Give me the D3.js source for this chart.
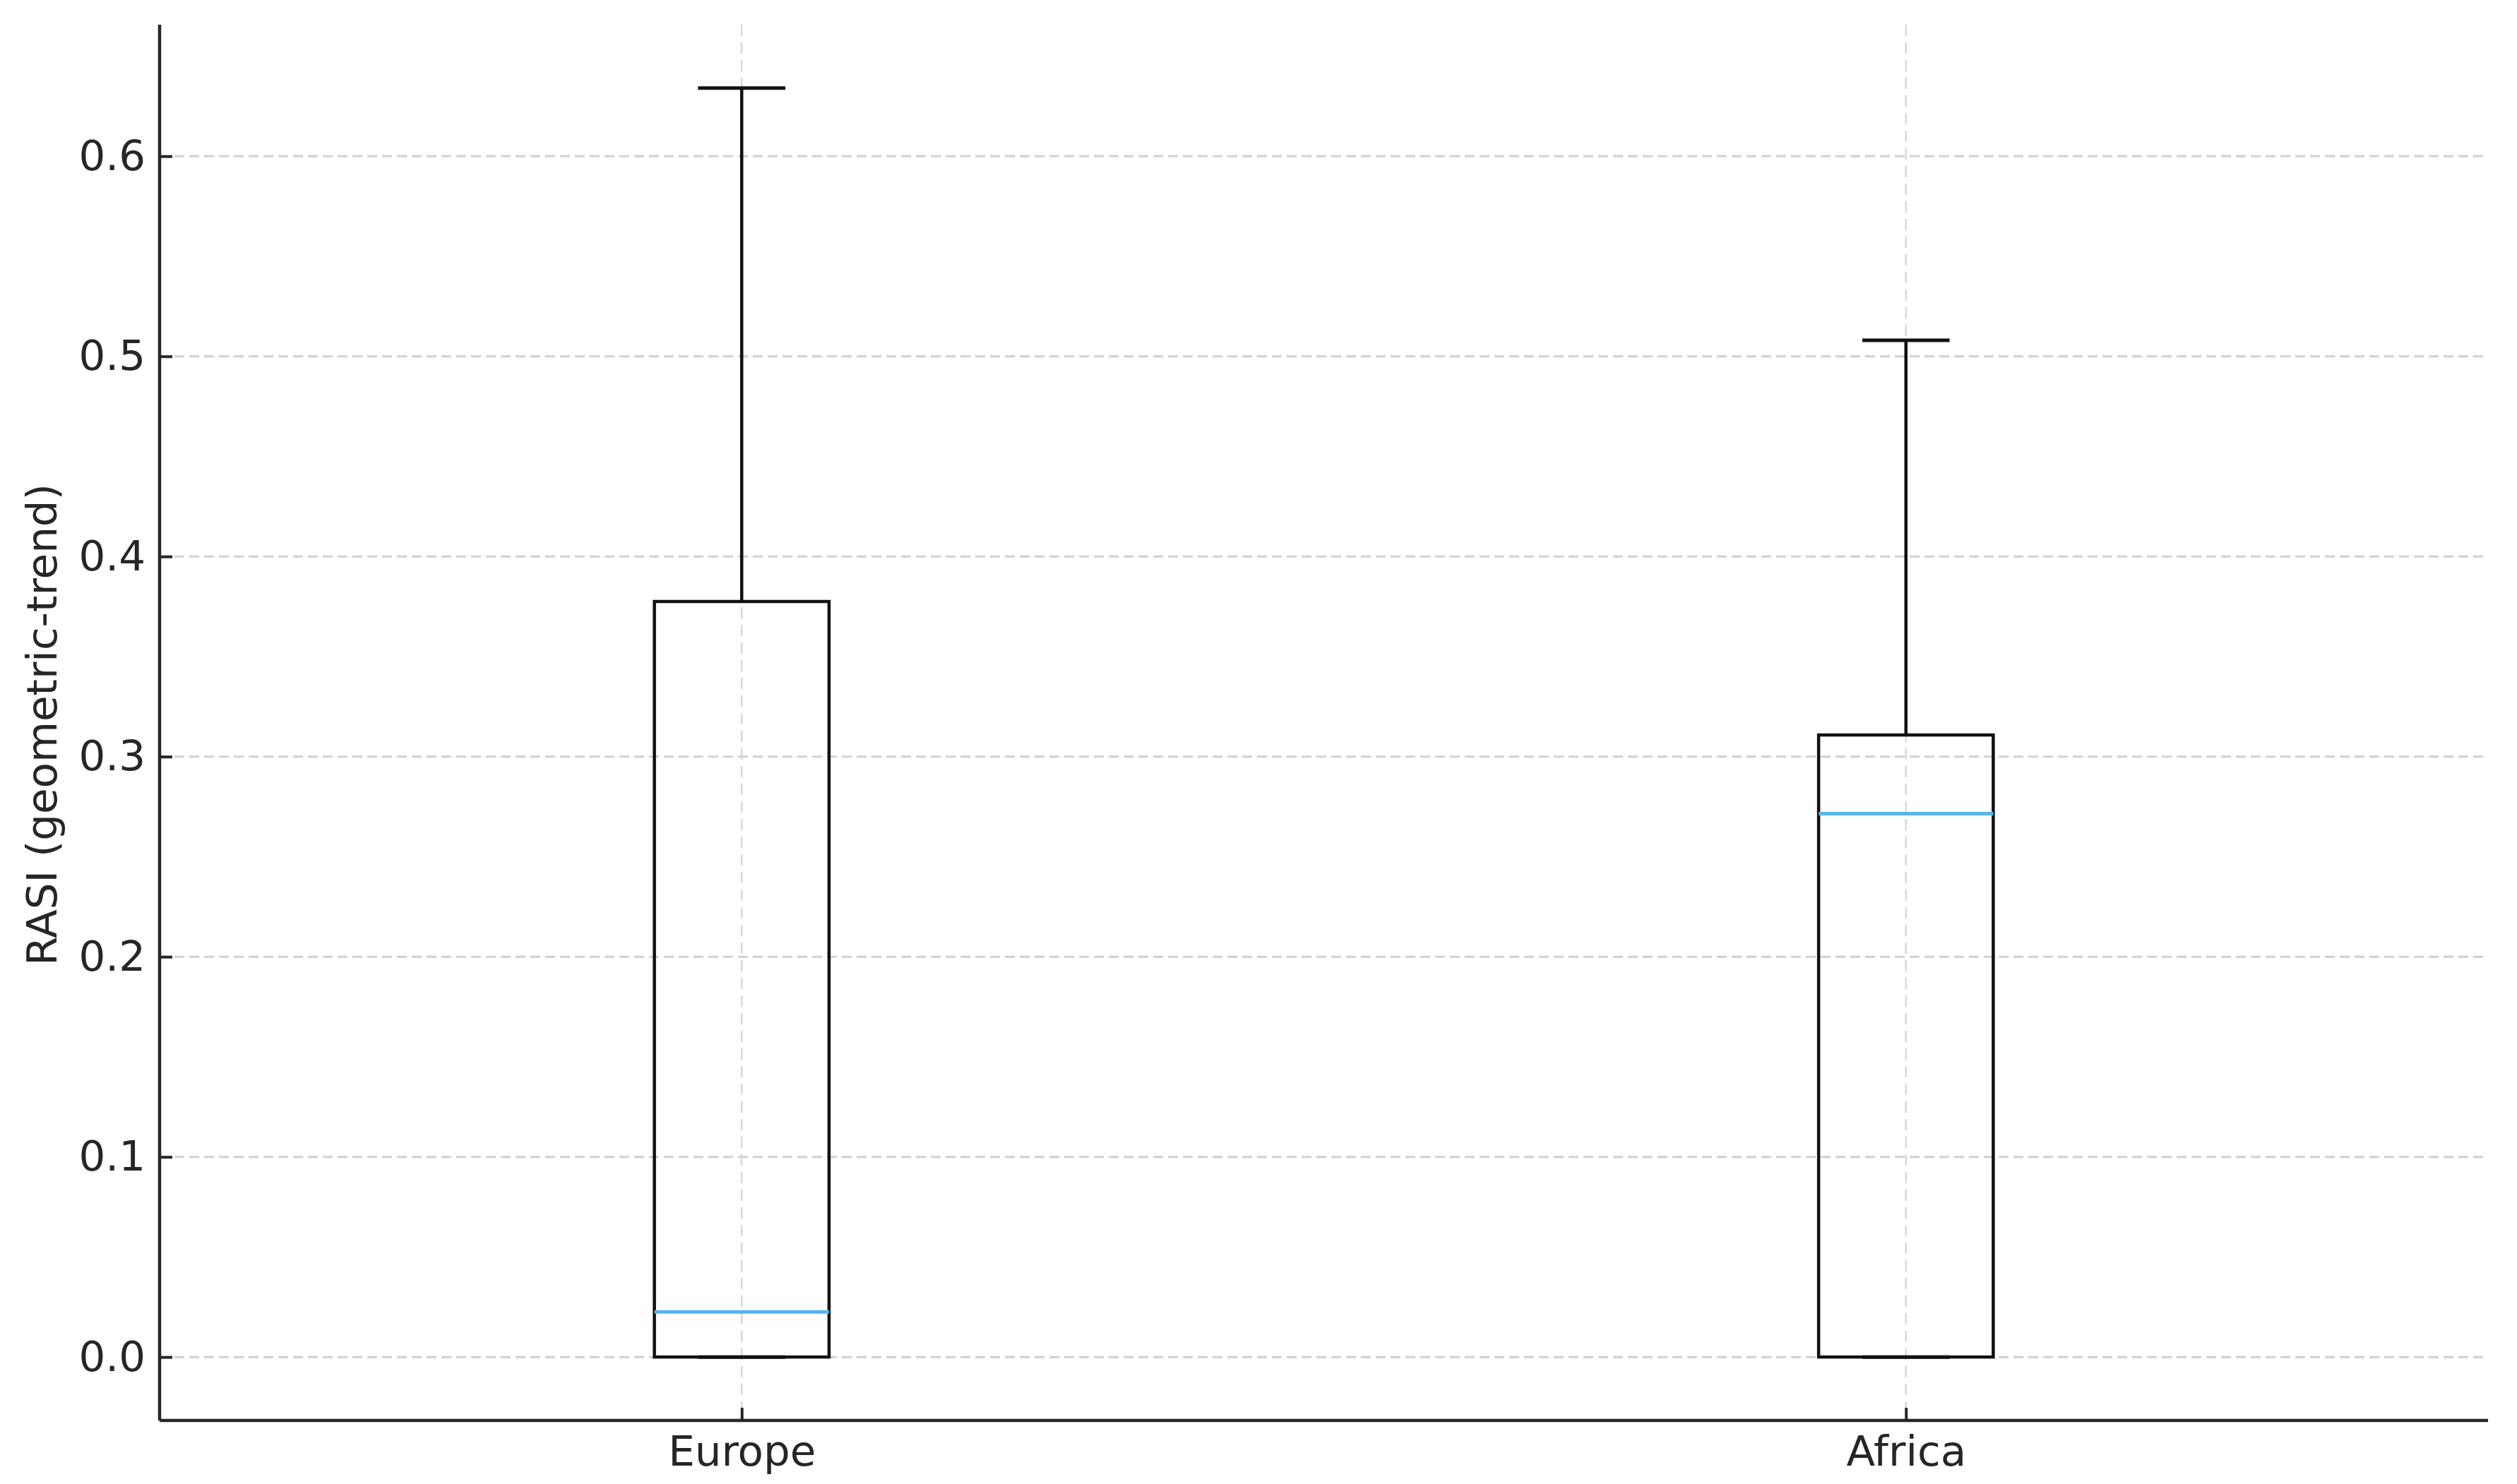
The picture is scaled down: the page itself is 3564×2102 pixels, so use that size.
<!DOCTYPE html>
<html>
<head>
<meta charset="utf-8">
<script src="https://cdn.jsdelivr.net/npm/d3@7"></script>
<style>
  body { margin: 0; background: #fff; }
  text { font-family: "DejaVu Sans", sans-serif; }
</style>
</head>
<body>
<script>
// Chart data
const regions = ["Europe", "Africa"];
const lowerWhisker = [0.0, 0.0];
const q1 = [0.0, 0.0];
const medians = [0.0225, 0.2715];
const q3 = [0.3775, 0.3108];
const upperWhisker = [0.634, 0.508];
const yTicks = [0.0, 0.1, 0.2, 0.3, 0.4, 0.5, 0.6];

let svgWidth = 3564
let svgHeight = 2102

var margin = {
    top: 35,
    right: 41,
    bottom: 90,
    left: 226
};

let width = svgWidth - margin.left - margin.right;
let height = svgHeight - margin.top - margin.bottom;

let fontSize = 59.5;

let svg = d3.select("body")
    .append("svg")
    .attr("width", svgWidth)
    .attr("height", svgHeight)

let chartGroup = svg.append("g")
    .attr("transform", `translate(${margin.left}, ${margin.top})`)

let boxData = regions.map((r, i) => ({
    region: r,
    pos: i + 1,
    lo: lowerWhisker[i],
    q1: q1[i],
    med: medians[i],
    q3: q3[i],
    hi: upperWhisker[i]
}));

// Scales (matplotlib style 5% margins on y, positions 1..n on x)
let yMax = d3.max(upperWhisker), yMin = d3.min(lowerWhisker);
let pad = (yMax - yMin) * 0.05;

let xScale = d3.scaleLinear()
    .domain([0.5, regions.length + 0.5])
    .range([0, width]);

let yScale = d3.scaleLinear()
    .domain([yMin - pad, yMax + pad])
    .range([height, 0]);

const boxW = 0.15, capW = 0.075;

// Grid lines
chartGroup.append("g")
    .selectAll("line")
    .data(yTicks)
    .enter().append("line")
    .attr("x1", 0)
    .attr("x2", width)
    .attr("y1", d => yScale(d))
    .attr("y2", d => yScale(d))
    .attr("stroke", "#d0d0d0")
    .attr("stroke-width", 3)
    .attr("stroke-dasharray", "14,7");

chartGroup.append("g")
    .selectAll("line")
    .data(boxData)
    .enter().append("line")
    .attr("x1", d => xScale(d.pos))
    .attr("x2", d => xScale(d.pos))
    .attr("y1", 0)
    .attr("y2", height)
    .attr("stroke", "#d8d8d8")
    .attr("stroke-width", 2.5)
    .attr("stroke-dasharray", "16,9");

// Axes
let leftAxis = d3.axisLeft(yScale)
    .tickValues(yTicks)
    .tickFormat(d3.format(".1f"))
    .tickSizeInner(-18)
    .tickSizeOuter(0)
    .tickPadding(20);

let bottomAxis = d3.axisBottom(xScale)
    .tickValues(boxData.map(d => d.pos))
    .tickFormat((d, i) => regions[i])
    .tickSizeInner(-18)
    .tickSizeOuter(0)
    .tickPadding(22);

let yAxisG = chartGroup.append("g")
    .call(leftAxis);

let xAxisG = chartGroup.append("g")
    .attr("transform", `translate(0, ${height})`)
    .call(bottomAxis);

[yAxisG, xAxisG].forEach(g => {
    g.select(".domain").attr("stroke", "#262626").attr("stroke-width", 4.5);
    g.selectAll(".tick line").attr("stroke", "#262626").attr("stroke-width", 4);
    g.selectAll(".tick text")
        .attr("font-size", fontSize)
        .attr("fill", "#262626")
        .attr("font-family", "DejaVu Sans");
});
// spine should span full plot area
yAxisG.select(".domain").attr("d", `M0,0V${height}`);
xAxisG.select(".domain").attr("d", `M0,0H${width}`);

// Boxes
let node = chartGroup.selectAll(".box")
    .data(boxData)
    .enter().append("g")
    .classed("box", true);

// whiskers
node.append("line")
    .attr("x1", d => xScale(d.pos))
    .attr("x2", d => xScale(d.pos))
    .attr("y1", d => yScale(d.q3))
    .attr("y2", d => yScale(d.hi))
    .attr("stroke", "#111")
    .attr("stroke-width", 4.5);

node.append("line")
    .attr("x1", d => xScale(d.pos))
    .attr("x2", d => xScale(d.pos))
    .attr("y1", d => yScale(d.q1))
    .attr("y2", d => yScale(d.lo))
    .attr("stroke", "#111")
    .attr("stroke-width", 4.5);

// caps
node.append("line")
    .attr("x1", d => xScale(d.pos - capW / 2))
    .attr("x2", d => xScale(d.pos + capW / 2))
    .attr("y1", d => yScale(d.hi))
    .attr("y2", d => yScale(d.hi))
    .attr("stroke", "#111")
    .attr("stroke-width", 5);

node.append("line")
    .attr("x1", d => xScale(d.pos - capW / 2))
    .attr("x2", d => xScale(d.pos + capW / 2))
    .attr("y1", d => yScale(d.lo))
    .attr("y2", d => yScale(d.lo))
    .attr("stroke", "#111")
    .attr("stroke-width", 5);

// box
node.append("rect")
    .attr("x", d => xScale(d.pos - boxW / 2))
    .attr("width", d => xScale(d.pos + boxW / 2) - xScale(d.pos - boxW / 2))
    .attr("y", d => yScale(d.q3))
    .attr("height", d => yScale(d.q1) - yScale(d.q3))
    .attr("fill", "none")
    .attr("stroke", "#111")
    .attr("stroke-width", 4.5);

// median
node.append("line")
    .attr("x1", d => xScale(d.pos - boxW / 2))
    .attr("x2", d => xScale(d.pos + boxW / 2))
    .attr("y1", d => yScale(d.med))
    .attr("y2", d => yScale(d.med))
    .attr("stroke", "#56b4e9")
    .attr("stroke-width", 5);

// Axis label
chartGroup.append("text")
    .attr("transform", `translate(${59 - margin.left}, ${height / 2 + 3}) rotate(-90)`)
    .attr("text-anchor", "middle")
    .attr("dy", "0.35em")
    .attr("font-size", fontSize)
    .attr("fill", "#262626")
    .text("RASI (geometric-trend)");
</script>
</body>
</html>
